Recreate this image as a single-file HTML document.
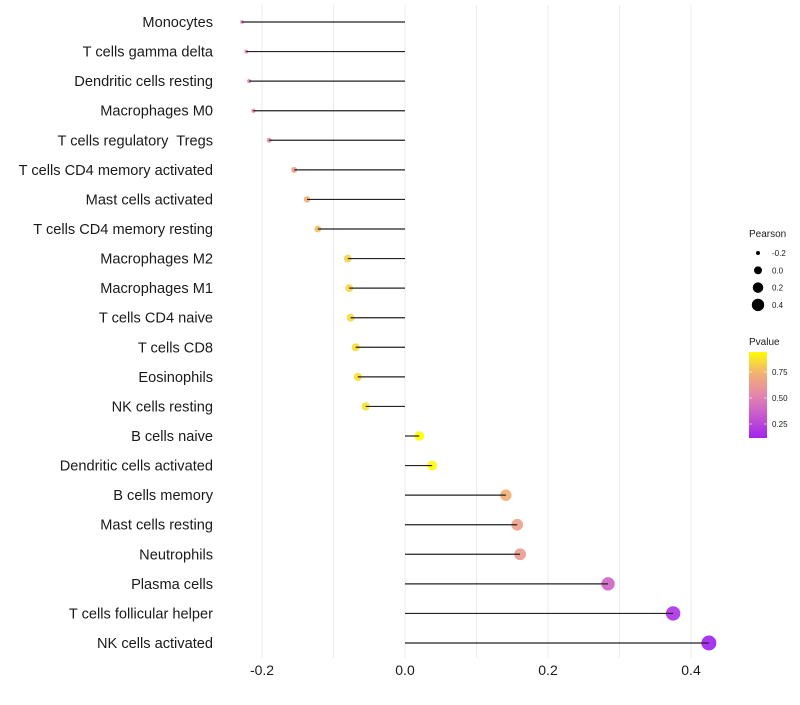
<!DOCTYPE html>
<html><head><meta charset="utf-8"><style>
body{margin:0;background:#fff;}
svg text{font-family:"Liberation Sans",sans-serif;white-space:pre;}
</style></head><body>
<svg id="chart" width="800" height="700"></svg>
<script>
const categories=["Monocytes","T cells gamma delta","Dendritic cells resting","Macrophages M0","T cells regulatory  Tregs","T cells CD4 memory activated","Mast cells activated","T cells CD4 memory resting","Macrophages M2","Macrophages M1","T cells CD4 naive","T cells CD8","Eosinophils","NK cells resting","B cells naive","Dendritic cells activated","B cells memory","Mast cells resting","Neutrophils","Plasma cells","T cells follicular helper","NK cells activated"];
const pearson=[-0.228,-0.222,-0.218,-0.212,-0.190,-0.155,-0.137,-0.122,-0.080,-0.078,-0.076,-0.069,-0.066,-0.055,0.020,0.038,0.141,0.157,0.161,0.284,0.375,0.425];
const pvalue=[0.45,0.5,0.5,0.52,0.55,0.65,0.72,0.77,0.83,0.83,0.84,0.86,0.86,0.87,0.99,0.94,0.72,0.66,0.63,0.38,0.17,0.1];
const xTicks=[-0.2,0,0.2,0.4];
const xTickLabels=["-0.2","0.0","0.2","0.4"];
const gridVals=[-0.2,-0.1,0,0.1,0.2,0.3,0.4];
const sizeLegend=[-0.2,0.0,0.2,0.4];
const colorTicks=[0.75,0.5,0.25];

const NS="http://www.w3.org/2000/svg";
const svg=document.getElementById('chart');
const X=v=>405+v*715;
const Y=i=>22+i*(621/21);
const R=v=>Math.sqrt(Math.max(1,21.7+81.2*v));
function col(p){
  const stops=[[0.1,[160,32,240]],[0.5,[226,128,180]],[0.75,[243,180,110]],[0.95,[255,255,0]]];
  if(p<=stops[0][0])return 'rgb('+stops[0][1]+')';
  for(let k=1;k<stops.length;k++){if(p<=stops[k][0]){const a=stops[k-1],b=stops[k],t=(p-a[0])/(b[0]-a[0]);return 'rgb('+a[1].map((c,j)=>Math.round(c+(b[1][j]-c)*t)).join(',')+')';}}
  return 'rgb(255,255,0)';
}
function el(tag,attrs,parent){const e=document.createElementNS(NS,tag);for(const k in attrs)e.setAttribute(k,attrs[k]);(parent||svg).appendChild(e);return e;}
gridVals.forEach(v=>{
  const l=el('line',{x1:X(v),x2:X(v),y1:5,y2:658,stroke:'#ebebeb','stroke-width':1});
  
  
});
categories.forEach((c,i)=>{
  const t=el('text',{x:213,y:Y(i)+5,'text-anchor':'end','font-size':14.6,fill:'#1a1a1a'});t.textContent=c;
  
  
  const p=el('circle',{cx:X(pearson[i]),cy:Y(i),r:R(pearson[i]),fill:col(pvalue[i]),'fill-opacity':0.9});
  
  
  const s=el('line',{x1:X(0),x2:X(pearson[i]),y1:Y(i),y2:Y(i),stroke:'#222','stroke-width':1.2});
  
  
});
xTicks.forEach((v,i)=>{
  const t=el('text',{x:X(v),y:675,'text-anchor':'middle','font-size':14,fill:'#1a1a1a'});t.textContent=xTickLabels[i];
  
  
});
const lt=el('text',{x:749,y:237,'font-size':10,fill:'#1a1a1a'});lt.textContent='Pearson';


sizeLegend.forEach((v,i)=>{
  const y=253+i*17.3;
  const c=el('circle',{cx:758,cy:y,r:Math.min(6.2,R(v)*0.85),fill:'#000'});
  
  
  const t=el('text',{x:772,y:y+3,'font-size':8,fill:'#1a1a1a'});t.textContent=v.toFixed(1);
  
  
});
const pt=el('text',{x:749,y:345,'font-size':10,fill:'#1a1a1a'});pt.textContent='Pvalue';


const defs=el('defs',{});
const g=el('linearGradient',{id:'cb',x1:0,y1:1,x2:0,y2:0},defs);
for(let k=0;k<=10;k++){const p=0.12+k*0.082;el('stop',{offset:k/10,'stop-color':col(p)},g);}
const bar=el('rect',{x:749,y:352,width:18,height:86,fill:'url(#cb)'});


colorTicks.forEach(v=>{
  const y=372+(0.75-v)*104;
  el('line',{x1:749,x2:752,y1:y,y2:y,stroke:'#fff','stroke-width':0.6});
  el('line',{x1:764,x2:767,y1:y,y2:y,stroke:'#fff','stroke-width':0.6});
  const t=el('text',{x:772,y:y+3,'font-size':8,fill:'#1a1a1a'});t.textContent=v.toFixed(2);
  
  
});
</script>
</body></html>
